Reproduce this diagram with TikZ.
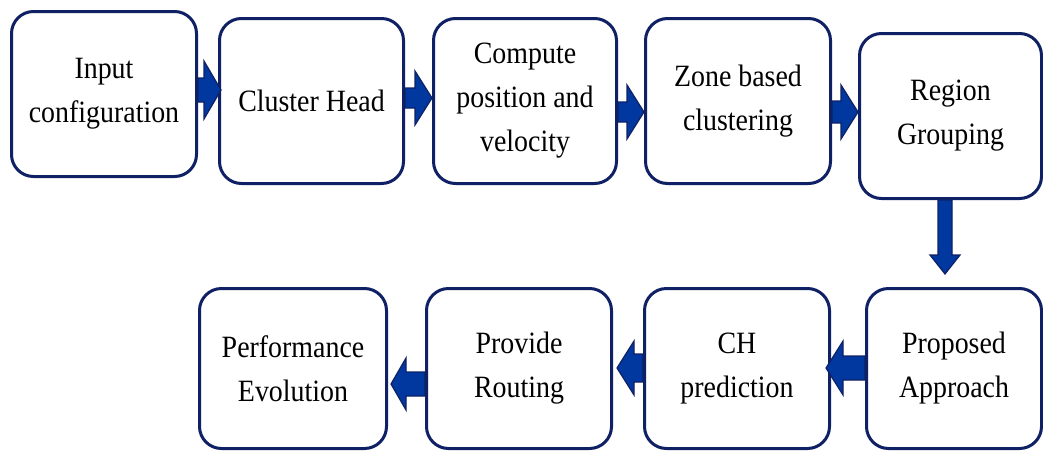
\documentclass[tikz,border=0pt]{standalone}
\usepackage{fontspec}
\setmainfont{Liberation Serif}[FakeStretch=0.9]
\usetikzlibrary{calc}
\definecolor{navy}{RGB}{16,32,100}
\definecolor{arrblue}{RGB}{0,56,160}
\tikzset{
  box/.style={draw=navy, line width=3pt, rounded corners=22pt, fill=white,
    align=center, anchor=north west, inner sep=0pt, text=black,
    font=\fontsize{31}{44}\selectfont},
  blockarrow/.style={draw=navy, fill=arrblue, line width=1.2pt, line join=miter}
}
% right arrow: from #1 to #2 at height #3, half shaft #4, half head #5, head length #6, tip offset #7
\newcommand\rightarr[7]{%
  \coordinate (ylev) at (0,#3);
  \draw[blockarrow] ($(#2.west |- ylev)+(#7,0)$) coordinate (t) -- ++(-#6,-#5) -- ++(0,#5-#4)
    -- ($(#1.east |- ylev)+(0,-#4)$) -- ($(#1.east |- ylev)+(0,#4)$)
    -- ($(t)+(-#6,#4)$) -- ++(0,#5-#4) -- cycle;}
\newcommand\leftarr[7]{%
  \coordinate (ylev) at (0,#3);
  \draw[blockarrow] ($(#2.east |- ylev)+(-#7,0)$) coordinate (t) -- ++(#6,-#5) -- ++(0,#5-#4)
    -- ($(#1.west |- ylev)+(0,-#4)$) -- ($(#1.west |- ylev)+(0,#4)$)
    -- ($(t)+(#6,#4)$) -- ++(0,#5-#4) -- cycle;}
\newcommand\downarr[7]{%
  \coordinate (xlev) at (#3,0);
  \draw[blockarrow] ($(#2.north -| xlev)+(0,-#7)$) coordinate (t) -- ++(-#5,-#6) -- ++(#5-#4,0)
    -- ($(#1.south -| xlev)+(-#4,0)$) -- ($(#1.south -| xlev)+(#4,0)$)
    -- ($(t)+(#4,-#6)$) -- ++(#5-#4,0) -- cycle;}
\begin{document}
\begin{tikzpicture}[x=1pt,y=-1pt]
\useasboundingbox (0,0) rectangle (1043,450);
\node[box, minimum width=185pt, minimum height=165pt] (b1) at (10,10) {Input\\configuration};
\node[box, minimum width=184pt, minimum height=165pt] (b2) at (218,17) {Cluster Head};
\node[box, minimum width=183pt, minimum height=165pt] (b3) at (432,17) {Compute\\position and\\velocity};
\node[box, minimum width=185pt, minimum height=165pt] (b4) at (644,17) {Zone based\\clustering};
\node[box, minimum width=182pt, minimum height=165pt] (b5) at (858,32) {Region\\Grouping};
\node[box, minimum width=175pt, minimum height=160pt] (b6) at (865,287) {Proposed\\Approach};
\node[box, minimum width=185pt, minimum height=160pt] (b7) at (643,287) {CH\\prediction};
\node[box, minimum width=185pt, minimum height=160pt] (b8) at (425,287) {Provide\\Routing};
\node[box, minimum width=187pt, minimum height=160pt] (b9) at (198,287) {Performance\\Evolution};

\rightarr{b1}{b2}{90}{12}{29}{17}{3}
\rightarr{b2}{b3}{98}{10}{27}{17}{0}
\rightarr{b3}{b4}{112}{10}{27}{17}{0}
\rightarr{b4}{b5}{112}{11}{27}{17}{0}
\downarr{b5}{b6}{945}{7}{15}{19}{13}
\leftarr{b6}{b7}{368}{12}{27}{17}{5}
\leftarr{b7}{b8}{368}{14}{27}{17}{-4}
\leftarr{b8}{b9}{384}{12}{26}{15}{-3}
\end{tikzpicture}
\end{document}
